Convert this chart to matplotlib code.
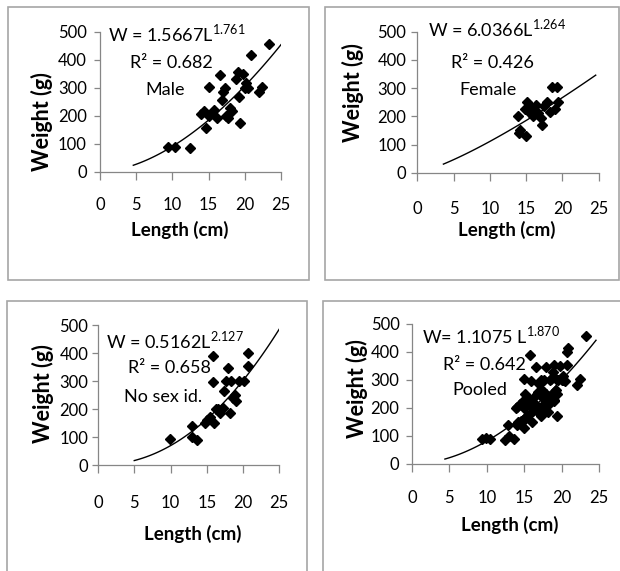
import numpy as np
import matplotlib
matplotlib.use("Agg")
import matplotlib.pyplot as plt
from matplotlib.patches import Rectangle

plt.rcParams["font.family"] = ["Lato", "DejaVu Sans"]
plt.rcParams["mathtext.fontset"] = "custom"
plt.rcParams["mathtext.rm"] = "Lato"

# data (length cm, weight g)
male_len = [9.4, 10.4, 12.4, 14.0, 14.4, 14.6, 15.0, 15.0, 15.7, 16.2,
            16.6, 16.8, 17.0, 17.2, 17.4, 17.7, 18.0, 18.2, 18.8, 19.0,
            19.2, 19.4, 19.8, 20.0, 20.2, 20.4, 20.8, 22.0, 22.4, 23.3]
male_wt = [88, 88, 86, 205, 215, 155, 200, 302, 222, 190,
           345, 256, 286, 300, 200, 190, 226, 215, 330, 355,
           265, 173, 350, 300, 315, 298, 415, 283, 303, 456]

female_len = [13.9, 14.0, 14.2, 14.8, 15.0, 15.1, 15.4, 15.8, 16.0, 16.3,
              16.6, 17.0, 17.2, 17.5, 17.9, 18.3, 18.6, 19.0, 19.3, 19.4]
female_wt = [200, 140, 150, 225, 130, 250, 215, 230, 200, 240,
             210, 195, 170, 235, 250, 215, 305, 225, 305, 250]

nosex_len = [9.9, 12.9, 13.0, 13.6, 14.7, 15.0, 15.4, 15.8, 16.0, 15.9,
             16.3, 16.6, 16.8, 17.2, 17.4, 17.6, 17.9, 18.2, 18.4, 18.6,
             18.9, 19.0, 19.5, 20.2, 20.7, 20.7]
nosex_wt = [92, 140, 100, 90, 150, 160, 170, 390, 150, 295,
            200, 200, 185, 205, 265, 300, 345, 185, 300, 240,
            250, 230, 300, 300, 400, 352]

pooled_len = male_len + female_len + nosex_len
pooled_wt = male_wt + female_wt + nosex_wt

# W = a * L^b
fit_a = [1.5667, 6.0366, 0.5162, 1.1075]
fit_b = [1.761, 1.264, 2.127, 1.870]
fit_range = [(4.6, 25.0), (3.6, 24.6), (5.0, 25.0), (4.4, 24.6)]

eq_text = ["W = 1.5667L$^{\\mathregular{1.761}}$",
           "W = 6.0366L$^{\\mathregular{1.264}}$",
           "W = 0.5162L$^{\\mathregular{2.127}}$",
           "W= 1.1075 L$^{\\mathregular{1.870}}$"]
r2_text = ["R² = 0.682", "R² = 0.426", "R² = 0.658", "R² = 0.642"]
group_names = ["Male", "Female", "No sex id.", "Pooled"]

x_ticks = [0, 5, 10, 15, 20, 25]
y_ticks = [0, 100, 200, 300, 400, 500]

W, H = 620, 571
fig = plt.figure(figsize=(W / 100, H / 100), dpi=100)


def px_box(x0, x1, ytop, ybot):
    return [x0 / W, (H - ybot) / H, (x1 - x0) / W, (ybot - ytop) / H]


# pixel layout of each panel
axes_px = [(100, 281, 31.7, 171.7), (417.3, 598.6, 31.7, 172.7),
           (98.0, 279.3, 325, 465), (412, 599, 324, 464)]
frames_px = [(8, 309, 7, 280), (325, 619, 7, 280),
             (7, 307, 300.5, 575), (323, 625, 300.5, 575)]
xpad = [12.5, 14.5, 15.5, 13.0]
ypad = [5.5, 4.0, 3.0, 5.0]
ylab_pos = [(-0.32, 0.357), (-0.353, 0.567), (-0.304, 0.51), (-0.296, 0.54)]
xlab_pos = [(0.44, -0.416), (0.496, -0.406), (0.523, -0.496), (0.524, -0.436)]
eq_pos = [(1.1, 495), (1.5, 514), (1.1, 446), (1.3, 461)]
r2_pos = [(4.2, 388), (4.7, 388), (4.2, 345), (4.1, 354)]
name_pos = [(9.0, 292), (9.75, 293), (9.0, 244), (9.1, 264)]

data = [(male_len, male_wt), (female_len, female_wt),
        (nosex_len, nosex_wt), (pooled_len, pooled_wt)]

for i in range(4):
    fx0, fx1, fy0, fy1 = frames_px[i]
    fig.patches.append(Rectangle((fx0 / W, (H - fy1) / H), (fx1 - fx0) / W,
                                 (fy1 - fy0) / H, transform=fig.transFigure,
                                 fill=False, edgecolor="#a6a6a6", lw=1.2))

    ax = fig.add_axes(px_box(*axes_px[i]))
    L, Wt = data[i]
    ax.plot(L, Wt, "D", color="black", ms=5.5, mec="black", zorder=3)

    lo, hi = fit_range[i]
    xx = np.linspace(lo, hi, 100)
    ax.plot(xx, fit_a[i] * xx ** fit_b[i], color="black", lw=1.0, zorder=2)

    ax.set_xlim(0, 25)
    ax.set_ylim(0, 500)
    ax.set_xticks(x_ticks)
    ax.set_yticks(y_ticks)
    for s in ["top", "right"]:
        ax.spines[s].set_visible(False)
    for s in ["left", "bottom"]:
        ax.spines[s].set_color("#868686")
        ax.spines[s].set_linewidth(0.9)
    ax.tick_params(axis="x", length=6, width=0.9, color="#868686",
                   labelsize=12, pad=xpad[i])
    ax.tick_params(axis="y", length=4, width=0.9, color="#868686",
                   labelsize=12, pad=ypad[i])
    ax.patch.set_alpha(0)

    ax.set_ylabel("Weight (g)", fontsize=15.5, fontweight="bold")
    ax.set_xlabel("Length (cm)", fontsize=13.5, fontweight="bold")
    ax.yaxis.set_label_coords(*ylab_pos[i])
    ax.xaxis.set_label_coords(*xlab_pos[i])
    ax.xaxis.label.set_va("center")
    ax.yaxis.label.set_va("center")

    ax.text(*eq_pos[i], eq_text[i], fontsize=13, ha="left", va="center")
    ax.text(*r2_pos[i], r2_text[i], fontsize=13, ha="left", va="center")
    ax.text(*name_pos[i], group_names[i], fontsize=13, ha="center", va="center")

fig.savefig("out.png", dpi=100)
